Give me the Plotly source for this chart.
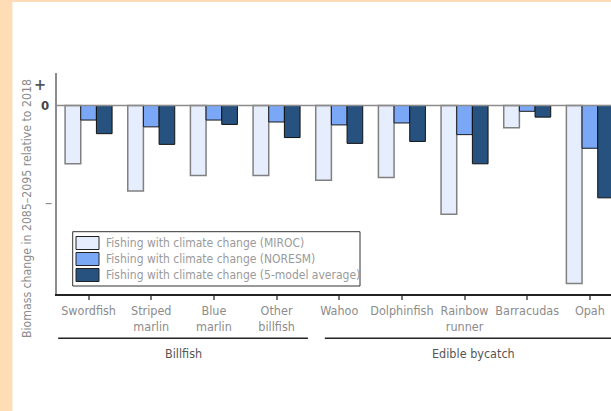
import plotly.graph_objects as go

# Species and projected biomass change (relative units: 0 = 2018 level, -1 = the "–" tick)
categories = ["Swordfish", "Striped<br>marlin", "Blue<br>marlin", "Other<br>billfish",
              "Wahoo", "Dolphinfish", "Rainbow<br>runner", "Barracudas", "Opah"]
series_names = ["Fishing with climate change (MIROC)",
                "Fishing with climate change (NORESM)",
                "Fishing with climate change (5-model average)"]
miroc = [-0.60, -0.88, -0.72, -0.72, -0.77, -0.74, -1.12, -0.23, -1.83]
noresm = [-0.15, -0.22, -0.15, -0.17, -0.20, -0.18, -0.30, -0.06, -0.44]
avg5 = [-0.29, -0.40, -0.195, -0.33, -0.39, -0.37, -0.60, -0.12, -0.95]
groups = ["Billfish", "Edible bycatch"]
ytick_vals = [0.22, 0, -1]
ytick_text = ["+", "0", "–"]
ytitle = "Biomass change in 2085–2095 relative to 2018"

W, H = 611, 411
ML, MR, MT, MB = 57, 0, 73, 117
PW, PH = W - ML - MR, H - MT - MB
XR = [-0.504, 8.337]
YR = [-1.939, 0.334]

FONT = "DejaVu Sans Condensed, Liberation Sans Narrow, sans-serif"
fills = ["#e6edfd", "#7ba7f7", "#27527f"]
edges = ["#808080", "#1a1a1a", "#111111"]
edge_w = [1.5, 1, 1]


def px(x):
    return (x - ML) / PW


def py(y):
    return (MT + PH - y) / PH


def dx(v):
    return (v - XR[0]) / (XR[1] - XR[0])


fig = go.Figure()
for name, vals, fc, ec, ew in zip(series_names, [miroc, noresm, avg5], fills, edges, edge_w):
    fig.add_trace(go.Bar(x=categories, y=vals, name=name, showlegend=False,
                         marker=dict(color=fc, line=dict(color=ec, width=ew))))

shapes = []
annotations = []

# peach frame along the left and top edges
peach = "#fddcb6"
shapes.append(dict(type="rect", xref="paper", yref="paper", x0=px(0), x1=px(12),
                   y0=py(H), y1=py(0), fillcolor=peach, line=dict(width=0), layer="below"))
shapes.append(dict(type="rect", xref="paper", yref="paper", x0=px(12), x1=px(13),
                   y0=py(H), y1=py(2), fillcolor="#fef0e0", line=dict(width=0), layer="below"))
shapes.append(dict(type="rect", xref="paper", yref="paper", x0=px(0), x1=px(W),
                   y0=py(2), y1=py(0), fillcolor=peach, line=dict(width=0), layer="below"))

# zero line
shapes.append(dict(type="line", xref="paper", yref="y", x0=0, x1=1, y0=0, y1=0,
                   line=dict(color="#8c8c8c", width=1.5)))

# y tick labels
ylab_x = [40, 45, 48]
ylab_style = [("#555555", 16, True), ("#444444", 13, True), ("#8c8c8c", 16, False)]
for v, t, xx, (c, s, b) in zip(ytick_vals, ytick_text, ylab_x, ylab_style):
    annotations.append(dict(xref="paper", yref="y", x=px(xx), y=v,
                            text=f"<b>{t}</b>" if b else t, showarrow=False,
                            xanchor="center", yanchor="middle",
                            font=dict(family=FONT, size=s, color=c)))

# y-axis title
annotations.append(dict(xref="paper", yref="paper", x=px(27), y=py(209), text=ytitle,
                        textangle=-90, showarrow=False, xanchor="center", yanchor="middle",
                        font=dict(family=FONT, size=12.2, color="#8c8c8c")))

# category group brackets and names
spans = [(-0.485, 3.5), (3.77, 8.5)]
for g, (a, b) in zip(groups, spans):
    shapes.append(dict(type="line", xref="paper", yref="paper", x0=dx(a), x1=min(dx(b), 1.0),
                       y0=py(338.3), y1=py(338.3), line=dict(color="#222222", width=1.5)))
    annotations.append(dict(xref="x", yref="paper", x=(a + b) / 2, y=py(353), text=g,
                            showarrow=False, xanchor="center", yanchor="middle",
                            font=dict(family=FONT, size=12.5, color="#555555")))

# legend box
shapes.append(dict(type="rect", xref="paper", yref="paper", x0=px(72.7), x1=px(360),
                   y0=py(286), y1=py(231.7), fillcolor="white",
                   line=dict(color="#333333", width=1)))
row_y = [243, 259, 275]
for name, fc, ec, yc in zip(series_names, fills, edges, row_y):
    shapes.append(dict(type="rect", xref="paper", yref="paper", x0=px(76), x1=px(99),
                       y0=py(yc + 6.5), y1=py(yc - 6.5), fillcolor=fc,
                       line=dict(color="#222222", width=1)))
    annotations.append(dict(xref="paper", yref="paper", x=px(104), y=py(yc), text=name,
                            showarrow=False, xanchor="left", yanchor="middle",
                            font=dict(family=FONT, size=12, color="#9a9a9a")))

fig.update_layout(
    width=W, height=H,
    margin=dict(l=ML, r=MR, t=MT, b=MB, pad=0),
    paper_bgcolor="white", plot_bgcolor="white",
    barmode="group", bargap=0.25, bargroupgap=0,
    shapes=shapes, annotations=annotations,
    xaxis=dict(range=XR, showgrid=False, zeroline=False, showline=True,
               linecolor="#222222", linewidth=1.5, ticks="outside", ticklen=4,
               tickcolor="#777777", tickwidth=1.5, tickangle=0,
               tickfont=dict(family=FONT, size=12.5, color="#8c8c8c")),
    yaxis=dict(range=YR, showgrid=False, zeroline=False, showline=True,
               linecolor="#8c8c8c", linewidth=1.5, showticklabels=False, ticks=""),
)

fig.write_html("out.html")
